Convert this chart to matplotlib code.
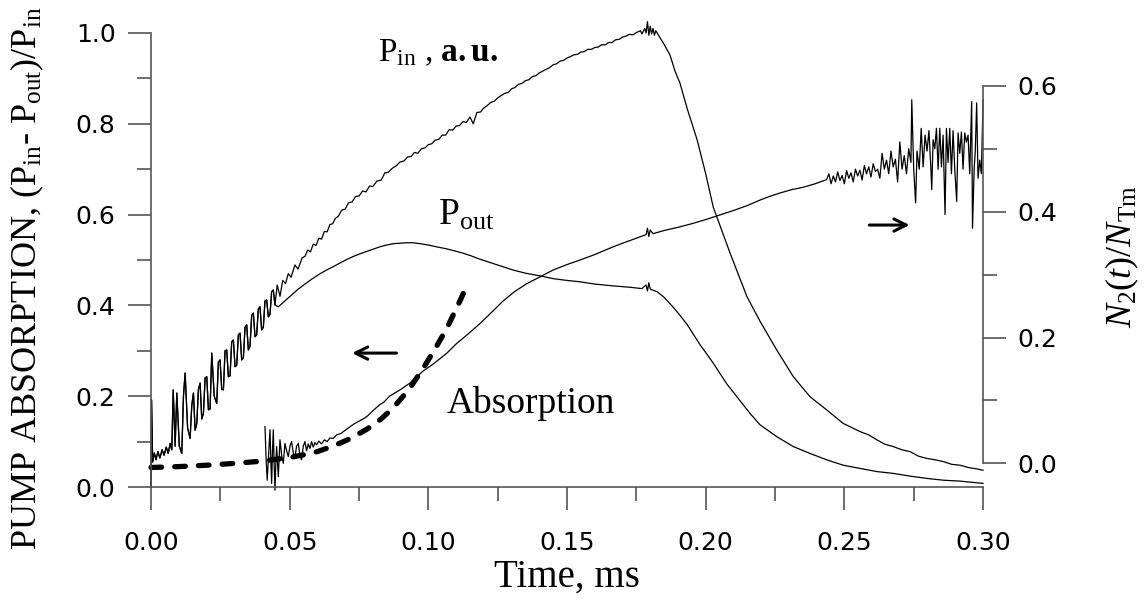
"""
Pump absorption, P_in / P_out traces and N2(t)/N_Tm model curve.
"""

import matplotlib

matplotlib.use("Agg")

import matplotlib.pyplot as plt
from matplotlib.ticker import MultipleLocator

plt.rcParams["mathtext.fontset"] = "custom"
plt.rcParams["mathtext.rm"] = "Liberation Serif"
plt.rcParams["mathtext.it"] = "Liberation Serif:italic"
plt.rcParams["mathtext.bf"] = "Liberation Serif:bold"

# early oscillating part, common to P_in and P_out
osc_t = [0.0, 0.0002, 0.0006, 0.0012, 0.0018, 0.0025, 0.0032, 0.0040, 0.0047,
         0.0055, 0.0062, 0.0069, 0.0075, 0.0080, 0.0087, 0.0093, 0.0102,
         0.0111, 0.0117, 0.0123, 0.0132, 0.0141, 0.0147, 0.0153, 0.0159,
         0.0165, 0.0171, 0.0177, 0.0183, 0.0189, 0.0195, 0.0201, 0.0207,
         0.0213, 0.0219, 0.0228, 0.0237, 0.0243, 0.0249, 0.0255, 0.0261,
         0.0267, 0.0273, 0.0279, 0.0285, 0.0291, 0.0297, 0.0303, 0.0309,
         0.0315, 0.0321, 0.0327, 0.0333, 0.0339, 0.0345, 0.0351, 0.0357,
         0.0363, 0.0369, 0.0375, 0.0381, 0.0387, 0.0393, 0.0399, 0.0405,
         0.0411, 0.0417, 0.0423, 0.0429, 0.0435, 0.0441, 0.0447]
osc_y = [0.0, 0.192, 0.055, 0.075, 0.060, 0.078, 0.064, 0.082, 0.070,
         0.088, 0.074, 0.096, 0.082, 0.214, 0.090, 0.207, 0.090,
         0.074, 0.200, 0.251, 0.130, 0.107, 0.180, 0.207, 0.125,
         0.140, 0.215, 0.229, 0.150, 0.162, 0.240, 0.243, 0.170,
         0.172, 0.295, 0.200, 0.184, 0.275, 0.280, 0.215, 0.214,
         0.300, 0.302, 0.243, 0.245, 0.320, 0.324, 0.265, 0.268,
         0.335, 0.339, 0.280, 0.285, 0.352, 0.357, 0.302, 0.310,
         0.378, 0.383, 0.331, 0.335, 0.392, 0.397, 0.346, 0.352,
         0.410, 0.412, 0.375, 0.380, 0.430, 0.434, 0.401]

pin_t = [0.0455, 0.0465, 0.0475, 0.0485, 0.0495, 0.0505, 0.0519, 0.0530,
         0.0545, 0.0555, 0.0565, 0.0575, 0.0585, 0.0595, 0.0605, 0.0615,
         0.0625, 0.0635, 0.0645, 0.0655, 0.0665, 0.0675, 0.0688, 0.0700,
         0.0712, 0.0725, 0.0738, 0.0750, 0.0763, 0.0775, 0.0788, 0.0800,
         0.0815, 0.0830, 0.0843, 0.0855, 0.0870, 0.0885, 0.0898, 0.0912,
         0.0925, 0.0938, 0.0950, 0.0962, 0.0975, 0.0988, 0.1000, 0.1012,
         0.1025, 0.1038, 0.1050, 0.1062, 0.1075, 0.1088, 0.1100, 0.1112,
         0.1125, 0.1137, 0.1150, 0.1162, 0.1175, 0.1188, 0.1200, 0.1212,
         0.1225, 0.1238, 0.1250, 0.1262, 0.1275, 0.1288, 0.1300, 0.1312,
         0.1325, 0.1338, 0.1350, 0.1362, 0.1375, 0.1388, 0.1400, 0.1412,
         0.1425, 0.1438, 0.1450, 0.1462, 0.1475, 0.1488, 0.1500, 0.1512,
         0.1525, 0.1538, 0.1550, 0.1562, 0.1575, 0.1588, 0.1600, 0.1612,
         0.1625, 0.1638, 0.1650, 0.1662, 0.1675, 0.1688, 0.1700, 0.1712,
         0.1725, 0.1738, 0.1750, 0.1765, 0.177, 0.178, 0.1785, 0.179,
         0.1795, 0.180, 0.1805, 0.181, 0.1815, 0.182, 0.1835, 0.185, 0.1871,
         0.189, 0.1907, 0.1935, 0.1969, 0.2000, 0.2027, 0.2088, 0.2149,
         0.2196, 0.2256, 0.2316, 0.2376, 0.2436, 0.2496, 0.2557, 0.2587,
         0.2617, 0.2647, 0.2677, 0.2707, 0.2737, 0.2767, 0.2797, 0.2827,
         0.2857, 0.2887, 0.2917, 0.2947, 0.2977, 0.300]
pin_y = [0.445, 0.420, 0.455, 0.448, 0.470, 0.462, 0.489, 0.480,
         0.505, 0.508, 0.522, 0.518, 0.535, 0.532, 0.548, 0.546,
         0.563, 0.562, 0.578, 0.580, 0.592, 0.596, 0.610, 0.612,
         0.626, 0.628, 0.640, 0.641, 0.652, 0.650, 0.663, 0.662,
         0.674, 0.676, 0.692, 0.693, 0.702, 0.708, 0.716, 0.718,
         0.727, 0.728, 0.737, 0.735, 0.745, 0.747, 0.754, 0.756,
         0.764, 0.766, 0.775, 0.775, 0.787, 0.786, 0.795, 0.796,
         0.805, 0.803, 0.815, 0.800, 0.825, 0.826, 0.835, 0.840,
         0.847, 0.850, 0.857, 0.862, 0.867, 0.869, 0.877, 0.880,
         0.887, 0.889, 0.895, 0.897, 0.904, 0.906, 0.912, 0.916,
         0.920, 0.924, 0.930, 0.932, 0.938, 0.940, 0.945, 0.948,
         0.952, 0.953, 0.958, 0.959, 0.964, 0.964, 0.968, 0.969,
         0.974, 0.974, 0.979, 0.979, 0.985, 0.986, 0.991, 0.993,
         0.997, 0.996, 1.001, 1.005, 0.998, 1.010, 1.000, 1.025,
         0.995, 1.015, 0.998, 1.010, 0.995, 1.005, 0.990, 0.975, 0.952,
         0.915, 0.890, 0.830, 0.765, 0.690, 0.617, 0.515, 0.419,
         0.365, 0.302, 0.243, 0.199, 0.170, 0.140, 0.122, 0.115,
         0.104, 0.094, 0.089, 0.082, 0.078, 0.068, 0.063, 0.060,
         0.056, 0.050, 0.048, 0.043, 0.040, 0.037]

pout_t = [0.0459, 0.0483, 0.0507, 0.0531, 0.0555, 0.058, 0.0605, 0.063,
          0.0656, 0.068, 0.0705, 0.073, 0.0755, 0.0778, 0.080, 0.0825,
          0.085, 0.0875, 0.0898, 0.092, 0.0945, 0.097, 0.100, 0.103, 0.1063,
          0.1095, 0.1125, 0.1155, 0.118, 0.1215, 0.125, 0.128, 0.1305,
          0.135, 0.1403, 0.145, 0.150, 0.1547, 0.160, 0.1666, 0.1727, 0.177,
          0.1785, 0.179, 0.1795, 0.180, 0.1825, 0.1846, 0.1865, 0.188,
          0.1905, 0.1933, 0.1955, 0.198, 0.2005, 0.2027, 0.2075, 0.2124,
          0.216, 0.2196, 0.2256, 0.2316, 0.2376, 0.2436, 0.2496, 0.2557,
          0.2617, 0.2677, 0.2737, 0.2797, 0.2857, 0.2917, 0.300]
pout_y = [0.397, 0.410, 0.423, 0.436, 0.447, 0.458, 0.468, 0.477,
          0.485, 0.493, 0.501, 0.508, 0.514, 0.519, 0.524, 0.529,
          0.533, 0.536, 0.537, 0.538, 0.538, 0.536, 0.533, 0.529, 0.525,
          0.520, 0.515, 0.509, 0.503, 0.496, 0.489, 0.483, 0.478,
          0.471, 0.465, 0.459, 0.455, 0.452, 0.447, 0.443, 0.440, 0.437,
          0.445, 0.432, 0.450, 0.436, 0.430, 0.420, 0.408, 0.398,
          0.380, 0.358, 0.337, 0.313, 0.292, 0.273, 0.228, 0.190,
          0.162, 0.137, 0.111, 0.089, 0.074, 0.060, 0.048, 0.041,
          0.034, 0.030, 0.024, 0.019, 0.015, 0.013, 0.008]

absorp_t = [0.0411, 0.0415, 0.0419, 0.0424, 0.0429, 0.0432, 0.0435, 0.0438,
            0.0441, 0.0444, 0.0447, 0.0450, 0.0453, 0.0459, 0.0465, 0.0471,
            0.0477, 0.0483, 0.0489, 0.0495, 0.0501, 0.0507, 0.0513, 0.0519,
            0.0525, 0.0531, 0.0537, 0.0543, 0.0549, 0.0555, 0.0561, 0.0567,
            0.0573, 0.0579, 0.0585, 0.0591, 0.0597, 0.0605, 0.0615, 0.0625,
            0.0635, 0.0645, 0.0657, 0.0670, 0.0685, 0.0700, 0.0718, 0.0735,
            0.0750, 0.0765, 0.0778, 0.080, 0.0826, 0.0838, 0.086, 0.0898,
            0.0934, 0.0945, 0.098, 0.102, 0.1067, 0.110, 0.1145, 0.1186,
            0.122, 0.127, 0.131, 0.1355, 0.1403, 0.145, 0.150, 0.1547, 0.160,
            0.165, 0.170, 0.175, 0.1785, 0.179, 0.1795, 0.180, 0.181, 0.185,
            0.190, 0.195, 0.200, 0.205, 0.210, 0.215, 0.2196, 0.223,
            0.227, 0.231, 0.235, 0.2395, 0.2436,
            0.2444, 0.2452, 0.2460, 0.2468, 0.2476, 0.2484, 0.2492, 0.2500,
            0.2508, 0.2516, 0.2524, 0.2532, 0.2540, 0.2548, 0.2556, 0.2564,
            0.2572, 0.2580, 0.2588, 0.2596, 0.2604, 0.2612, 0.2620, 0.2628,
            0.2636, 0.2644, 0.2652, 0.2660, 0.2668, 0.2676, 0.2684, 0.2692,
            0.2700, 0.2708, 0.2716, 0.2724, 0.2732, 0.2740, 0.2743, 0.2750,
            0.2757, 0.2762, 0.2770, 0.2777, 0.2784, 0.2791, 0.2798, 0.2805,
            0.2812, 0.2815, 0.2820, 0.2826, 0.2832, 0.2838, 0.2844, 0.2850,
            0.2856, 0.2863, 0.2868, 0.2874, 0.2880, 0.2886, 0.2892, 0.2898,
            0.2905, 0.2910, 0.2916, 0.2922, 0.2928, 0.2934, 0.2940, 0.2946,
            0.2952, 0.2959, 0.2962, 0.2968, 0.2972, 0.2977, 0.2982, 0.2988,
            0.2994, 0.3000]
absorp_y = [0.133, 0.060, 0.015, 0.070, 0.126, 0.060, 0.008, 0.080,
            0.126, 0.050, -0.007, 0.050, 0.089, 0.023, 0.104, 0.070,
            0.052, 0.096, 0.080, 0.067, 0.090, 0.100, 0.075, 0.067,
            0.090, 0.096, 0.070, 0.060, 0.090, 0.100, 0.080, 0.095,
            0.085, 0.100, 0.088, 0.098, 0.093, 0.101, 0.095, 0.104,
            0.100, 0.108, 0.107, 0.115, 0.118, 0.125, 0.133, 0.140,
            0.145, 0.150, 0.155, 0.168, 0.182, 0.186, 0.200, 0.214,
            0.229, 0.236, 0.255, 0.272, 0.295, 0.315, 0.338, 0.360,
            0.380, 0.410, 0.430, 0.448, 0.463, 0.478, 0.490, 0.500, 0.512,
            0.525, 0.537, 0.548, 0.556, 0.570, 0.552, 0.566, 0.558, 0.565,
            0.572, 0.580, 0.589, 0.599, 0.609, 0.620, 0.632, 0.640,
            0.648, 0.655, 0.660, 0.668, 0.677,
            0.690, 0.668, 0.685, 0.672, 0.694, 0.675, 0.686, 0.668,
            0.697, 0.680, 0.692, 0.672, 0.700, 0.685, 0.698, 0.676,
            0.708, 0.690, 0.705, 0.683, 0.712, 0.695, 0.700, 0.680,
            0.735, 0.700, 0.720, 0.690, 0.740, 0.705, 0.722, 0.672,
            0.760, 0.700, 0.730, 0.690, 0.745, 0.715, 0.853, 0.700,
            0.626, 0.740, 0.700, 0.790, 0.705, 0.775, 0.740, 0.785,
            0.700, 0.655, 0.765, 0.745, 0.790, 0.700, 0.790, 0.705,
            0.775, 0.600, 0.790, 0.715, 0.790, 0.690, 0.785, 0.700,
            0.629, 0.780, 0.735, 0.782, 0.700, 0.780, 0.760, 0.775,
            0.690, 0.849, 0.570, 0.700, 0.740, 0.846, 0.680, 0.720,
            0.690, 0.853]

# model N2(t)/N_Tm, drawn in left-axis units
model_t = [0.0, 0.01, 0.02, 0.03, 0.04, 0.05, 0.055, 0.06, 0.066, 0.072,
           0.078, 0.083, 0.0874, 0.093, 0.098, 0.1025, 0.1067, 0.1114, 0.114]
model_y = [0.043, 0.045, 0.048, 0.052, 0.057, 0.065, 0.071, 0.078, 0.091,
           0.107, 0.128, 0.150, 0.175, 0.215, 0.260, 0.305, 0.350, 0.410,
           0.445]

fig = plt.figure(figsize=(11.44, 6.0), dpi=100)
ax = fig.add_axes([0.132, 0.1883, 0.7273, 0.7567])

cor_eixo = "#555555"
ax.plot(osc_t + pin_t, osc_y + pin_y, color="black", lw=0.9, clip_on=False)
ax.plot(osc_t + pout_t, osc_y + pout_y, color="black", lw=0.9, clip_on=False)
ax.plot(absorp_t, absorp_y, color="black", lw=0.9, clip_on=False)
ax.plot(model_t, model_y, color="black", lw=3.8, dashes=(2.0, 2.5),
        dash_capstyle="round", clip_on=False)

ax.set_xlim(0, 0.30)
ax.set_ylim(0, 1.0)
for lado in ["top", "right"]:
    ax.spines[lado].set_visible(False)
for lado in ["left", "bottom"]:
    ax.spines[lado].set_color(cor_eixo)
    ax.spines[lado].set_linewidth(1.2)

ax.xaxis.set_major_locator(MultipleLocator(0.05))
ax.xaxis.set_minor_locator(MultipleLocator(0.025))
ax.yaxis.set_major_locator(MultipleLocator(0.2))
ax.yaxis.set_minor_locator(MultipleLocator(0.1))
ax.xaxis.set_major_formatter(plt.FormatStrFormatter("%.2f"))
ax.yaxis.set_major_formatter(plt.FormatStrFormatter("%.1f"))
ax.tick_params(which="major", length=16.5, width=1.2, color=cor_eixo,
               labelsize=18, direction="out")
ax.tick_params(which="minor", length=10, width=1.2, color=cor_eixo,
               direction="out")
ax.tick_params(axis="x", which="major", pad=15)
ax.tick_params(axis="y", which="major", pad=9)

ax2 = ax.twinx()
ax2.set_ylim(-0.0377, 0.6842)
for lado in ["top", "left", "bottom"]:
    ax2.spines[lado].set_visible(False)
ax2.spines["right"].set_bounds(0, 0.6)
ax2.spines["right"].set_color(cor_eixo)
ax2.spines["right"].set_linewidth(1.2)
ax2.yaxis.set_major_locator(MultipleLocator(0.2))
ax2.yaxis.set_minor_locator(MultipleLocator(0.1))
ax2.yaxis.set_major_formatter(plt.FormatStrFormatter("%.1f"))
ax2.tick_params(which="major", length=16.5, width=1.2, color=cor_eixo,
                labelsize=18, pad=8.5, direction="out")
ax2.tick_params(which="minor", length=10, width=1.2, color=cor_eixo,
                direction="out")

serif = "Liberation Serif"
fig.text(0.4956, 0.008, "Time, ms", family=serif, fontsize=28,
         ha="center", va="bottom")
fig.text(0.024, 0.537,
         r"PUMP ABSORPTION, (P$_{\mathrm{in}}$- P$_{\mathrm{out}}$)/P$_{\mathrm{in}}$",
         family=serif, fontsize=26, rotation=90, ha="center", va="center")
fig.text(0.981, 0.572, r"$\mathit{N}_2(\mathit{t})/\mathit{N}_{\mathrm{Tm}}$",
         family=serif, fontsize=26, rotation=90, ha="center", va="center")

ax.text(0.0819, 0.937, r"P$_{\mathrm{in}}$ , $\mathbf{a.u.}$", family=serif,
        fontsize=24, ha="left", va="baseline")
ax.text(0.1035, 0.577, r"P$_{\mathrm{out}}$", family=serif, fontsize=27,
        ha="left", va="baseline")
ax.text(0.1067, 0.163, "Absorption", family=serif, fontsize=27,
        ha="left", va="baseline")

ax.annotate("", xy=(0.0725, 0.295), xytext=(0.0885, 0.295),
            arrowprops=dict(arrowstyle="->", lw=2.2, color="black",
                            mutation_scale=22, shrinkA=0, shrinkB=0))
ax.annotate("", xy=(0.2735, 0.577), xytext=(0.259, 0.577),
            arrowprops=dict(arrowstyle="->", lw=2.2, color="black",
                            mutation_scale=22, shrinkA=0, shrinkB=0))

fig.savefig("out.png", dpi=100)
